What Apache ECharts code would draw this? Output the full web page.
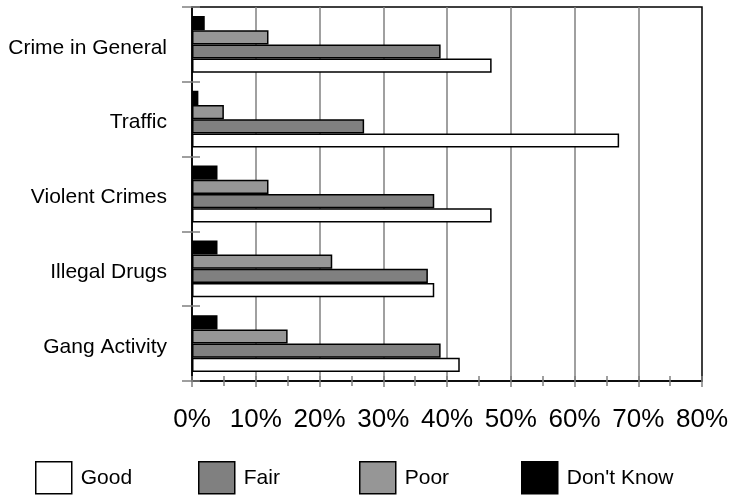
<!DOCTYPE html>
<html>
<head>
<meta charset="utf-8">
<script src="https://cdn.jsdelivr.net/npm/echarts@6/dist/echarts.min.js"></script>
<style>
  html, body { margin: 0; padding: 0; background: #fff; }
  #chart { width: 732px; height: 496px; }
</style>
</head>
<body>
<div id="chart"></div>
<script>
// Survey ratings per topic (percent of respondents)
const categories = ['Crime in General', 'Traffic', 'Violent Crimes', 'Illegal Drugs', 'Gang Activity'];
const good = [47, 67, 47, 38, 42];
const fair = [39, 27, 38, 37, 39];
const poor = [12, 5, 12, 22, 15];
const dontKnow = [2, 1, 4, 4, 4];
const xTicks = { min: 0, max: 80, step: 10 };

const FONT = '"Liberation Sans", Arial, sans-serif';
const GRID_GRAY = '#808080';

// Series listed top-to-bottom within each category group
const seriesDefs = [
  { name: "Don't Know", data: dontKnow, color: '#000000' },
  { name: 'Poor', data: poor, color: '#969696' },
  { name: 'Fair', data: fair, color: '#808080' },
  { name: 'Good', data: good, color: '#ffffff' }
];

// One legend per entry so each box sits at its own fixed slot
const legendSlots = [
  { name: 'Good', left: 35 },
  { name: 'Fair', left: 198 },
  { name: 'Poor', left: 359 },
  { name: "Don't Know", left: 521 }
];

const chart = echarts.init(document.getElementById('chart'), null, { renderer: 'canvas' });

chart.setOption({
  animation: false,
  backgroundColor: '#ffffff',
  textStyle: { fontFamily: FONT },
  grid: {
    left: 192, right: 30, top: 7, bottom: 115,
    show: true, borderColor: '#000', borderWidth: 1.5,
    outerBoundsMode: 'none'
  },
  legend: legendSlots.map(s => ({
    data: [s.name],
    left: s.left,
    top: 461,
    padding: 0,
    itemWidth: 36,
    itemHeight: 32,
    icon: 'rect',
    selectedMode: false,
    itemStyle: { borderColor: '#000', borderWidth: 1.5 },
    textStyle: { fontSize: 21, color: '#000', fontFamily: FONT, padding: [3, 0, 0, 4] }
  })),
  xAxis: [
    {
      type: 'value',
      position: 'bottom',
      min: xTicks.min, max: xTicks.max, interval: xTicks.step,
      axisLine: { show: true, lineStyle: { color: '#000', width: 1.5 } },
      axisTick: { show: true, length: 6, lineStyle: { color: GRID_GRAY, width: 1.5 } },
      minorTick: { show: true, splitNumber: 2, length: 5, lineStyle: { color: GRID_GRAY, width: 1.5 } },
      splitLine: { show: true, showMinLine: false, showMaxLine: false, lineStyle: { color: GRID_GRAY, width: 1.5 } },
      axisLabel: {
        margin: 26, fontSize: 26, color: '#000', fontFamily: FONT,
        formatter: v => v + '%'
      }
    },
    {
      // inner half of the crossing 5% ticks
      type: 'value',
      position: 'bottom',
      min: xTicks.min, max: xTicks.max, interval: xTicks.step / 2,
      axisLine: { show: false },
      axisTick: { show: true, inside: true, length: 5, lineStyle: { color: GRID_GRAY, width: 1.5 } },
      splitLine: { show: false },
      axisLabel: { show: false }
    }
  ],
  yAxis: [
    {
      type: 'category',
      data: categories,
      inverse: true,
      position: 'left',
      axisLine: { show: true, lineStyle: { color: '#000', width: 1.5 } },
      axisTick: { show: true, length: 10, lineStyle: { color: GRID_GRAY, width: 1.5 } },
      // top-anchored with a short line box: text sits slightly below the band centre
      axisLabel: {
        margin: 25, fontSize: 21, color: '#000', fontFamily: FONT,
        verticalAlign: 'top', lineHeight: 7
      },
      splitLine: { show: false }
    },
    {
      // inner half of the crossing category ticks
      type: 'category',
      data: categories,
      inverse: true,
      position: 'left',
      axisLine: { show: false },
      axisTick: { show: true, inside: true, length: 8, lineStyle: { color: GRID_GRAY, width: 1.5 } },
      axisLabel: { show: false },
      splitLine: { show: false }
    }
  ],
  series: seriesDefs.map(s => ({
    name: s.name,
    type: 'bar',
    xAxisIndex: 0,
    yAxisIndex: 0,
    data: s.data,
    barGap: '0%',
    barCategoryGap: '24%',
    itemStyle: { color: s.color, borderColor: '#000', borderWidth: 1.5 },
    emphasis: { disabled: true }
  }))
});
</script>
</body>
</html>
